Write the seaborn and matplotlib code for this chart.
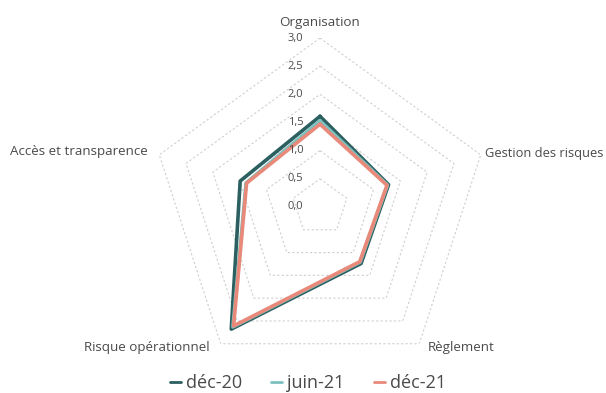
import numpy as np
import pandas as pd
import seaborn as sns

import matplotlib

matplotlib.use("Agg")
import matplotlib.pyplot as plt

# data
categories = ["Organisation", "Gestion des risques", "Règlement",
              "Risque opérationnel", "Accès et transparence"]
periods = ["déc-20", "juin-21", "déc-21"]
dec20 = [1.61, 1.28, 1.24, 2.68, 1.49]
juin21 = [1.53, 1.26, 1.21, 2.63, 1.38]
dec21 = [1.47, 1.25, 1.20, 2.61, 1.37]
r_ticks = [0.0, 0.5, 1.0, 1.5, 2.0, 2.5, 3.0]
r_tick_labels = ["0,0", "0,5", "1,0", "1,5", "2,0", "2,5", "3,0"]

colors = {"déc-20": "#2b5f60", "juin-21": "#7cc0c0", "déc-21": "#e8897a"}
text_color = "#4a4a4a"

n = len(categories)
angles = np.linspace(0, 2 * np.pi, n, endpoint=False)

rows = []
for period, values in zip(periods, [dec20, juin21, dec21]):
    for i in range(n + 1):
        rows.append({"period": period, "theta": angles[i % n] if i < n else 2 * np.pi,
                     "value": values[i % n], "order": i})
df = pd.DataFrame(rows)

sns.set_theme(style="white")
plt.rcParams["font.family"] = ["Open Sans", "DejaVu Sans"]

fig = plt.figure(figsize=(6.06, 3.93), dpi=100)
W, H = 606, 393
cx, cy, R = 320, 207, 169
ax = fig.add_axes([(cx - R) / W, (H - cy - R) / H, 2 * R / W, 2 * R / H], projection="polar")
ax.set_theta_zero_location("N")
ax.set_theta_direction(-1)
ax.set_ylim(0, 3.0)

# pentagon grid
for t in r_ticks[1:]:
    ax.plot(np.append(angles, angles[0]), [t] * (n + 1), color="#cfcfcf",
            lw=0.8, ls=(0, (2, 2)), zorder=1)

sns.lineplot(data=df, x="theta", y="value", hue="period", sort=False,
             palette=colors, hue_order=periods, linewidth=2.6, ax=ax,
             legend=False, zorder=3)

ax.grid(False)
ax.spines["polar"].set_visible(False)
ax.set_xticks([])
ax.set_yticks([])
ax.set_xlabel("")
ax.set_ylabel("")

for t, lab in zip(r_ticks, r_tick_labels):
    ax.annotate(lab, xy=(0, t), xytext=(-12, 0), textcoords="offset points",
                ha="right", va="center", fontsize=8, color=text_color)

label_offsets = [(0, 11, "center"), (3, 1, "left"), (6, -3, "left"),
                 (-8, -3, "right"), (-8, 2, "right")]
label_sizes = [9.6, 9.3, 9.6, 9.6, 9.6]
for ang, cat, (dx, dy, ha), fs in zip(angles, categories, label_offsets, label_sizes):
    ax.annotate(cat, xy=(ang, 3.0), xytext=(dx, dy), textcoords="offset points",
                ha=ha, va="center", fontsize=fs, color=text_color)

handles = [plt.Line2D([], [], color=colors[p], lw=2.0) for p in periods]
fig.legend(handles, periods, loc="center", bbox_to_anchor=(0.5 + 5 / W, 1 - 383 / H),
           ncol=3, frameon=False, fontsize=13, handlelength=0.6,
           handletextpad=0.3, columnspacing=1.6, labelcolor=text_color)

fig.savefig("out.png", dpi=100)
